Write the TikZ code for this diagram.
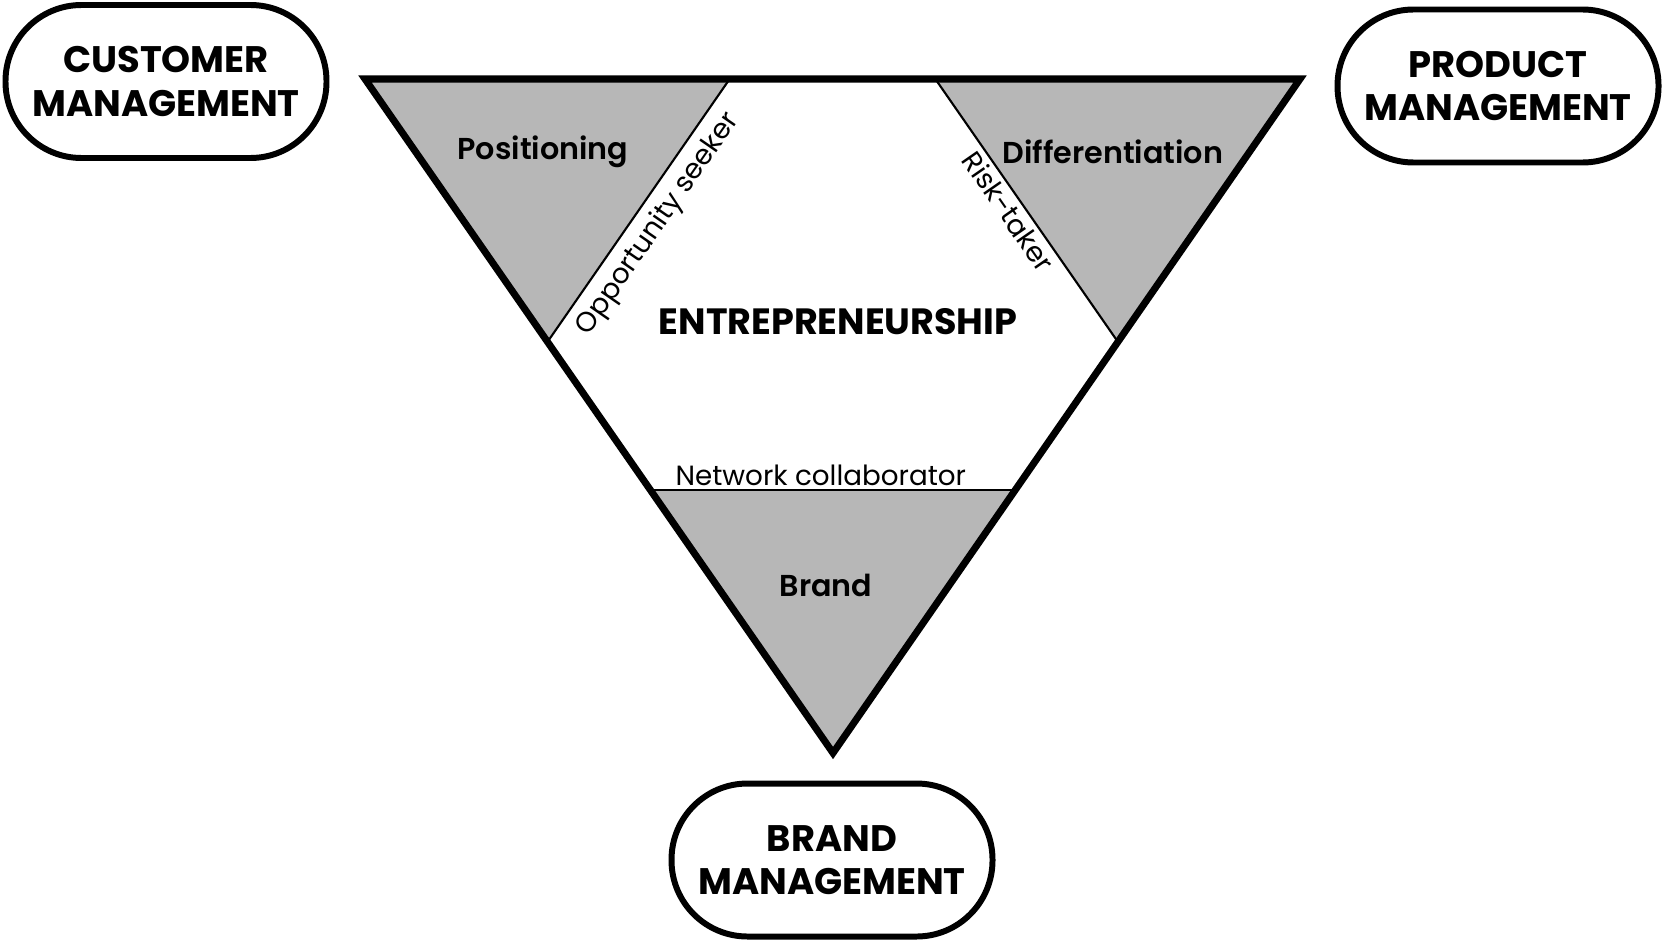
\documentclass[tikz,border=0pt]{standalone}
\usepackage{fontspec}
\setmainfont{Poppins}
\newfontfamily\semibold{Poppins SemiBold}
\usetikzlibrary{calc}
\definecolor{wedgegray}{RGB}{183,183,183}
\tikzset{
  mgmt/.style={rectangle,rounded corners=0.76cm,draw,line width=1.7pt,minimum width=3.21cm,minimum height=1.53cm,align=center,font=\bfseries\fontsize{10.5}{12.4}\selectfont},
  corner/.style={font=\semibold\fontsize{8.6}{10}\selectfont},
  trait/.style={font=\fontsize{7.9}{9}\selectfont,inner sep=1pt}
}
\begin{document}
\begin{tikzpicture}[line width=0.6pt]
\useasboundingbox (0,0) rectangle (16.64,9.43);
%\draw[help lines] (0,0) grid (16,9);
\coordinate (L) at (3.65,8.64);
\coordinate (R) at (13.00,8.64);
\coordinate (T) at (8.33,1.90);
\coordinate (Lr) at ($(L)!0.39!(R)$);
\coordinate (Ld) at ($(L)!0.39!(T)$);
\coordinate (Rl) at ($(R)!0.39!(L)$);
\coordinate (Rd) at ($(R)!0.39!(T)$);
\coordinate (Tl) at ($(T)!0.39!(L)$);
\coordinate (Tr) at ($(T)!0.39!(R)$);
\fill[wedgegray] (L)--(Lr)--(Ld)--cycle;
\fill[wedgegray] (R)--(Rl)--(Rd)--cycle;
\fill[wedgegray] (T)--(Tl)--(Tr)--cycle;
\draw (Ld)--(Lr) node[pos=0.5,sloped,below,trait,inner sep=2.5pt](opp){Opportunity seeker};
\draw (Rl)--(Rd) node[pos=0.47,sloped,below,trait](risk){Risk-taker};
\draw (Tl)--(Tr) node[midway,above,trait,xshift=-0.12cm](net){Network collaborator};
\draw[line width=2pt,line join=miter] (L)--(R)--(T)--cycle;
\node[corner](pos) at (5.43,7.91) {Positioning};
\node[corner](dif) at (11.13,7.91) {Differentiation};
\node[corner](brd) at (8.26,3.58) {Brand};
\node[font=\bfseries\fontsize{10.4}{12}\selectfont](ent) at (8.38,6.21) {ENTREPRENEURSHIP};
\node[mgmt](cust) at (1.66,8.615) {CUSTOMER\\MANAGEMENT};
\node[mgmt](prod) at (14.98,8.57) {PRODUCT\\MANAGEMENT};
\node[mgmt](bman) at (8.32,0.83) {BRAND\\MANAGEMENT};
\end{tikzpicture}
\end{document}
